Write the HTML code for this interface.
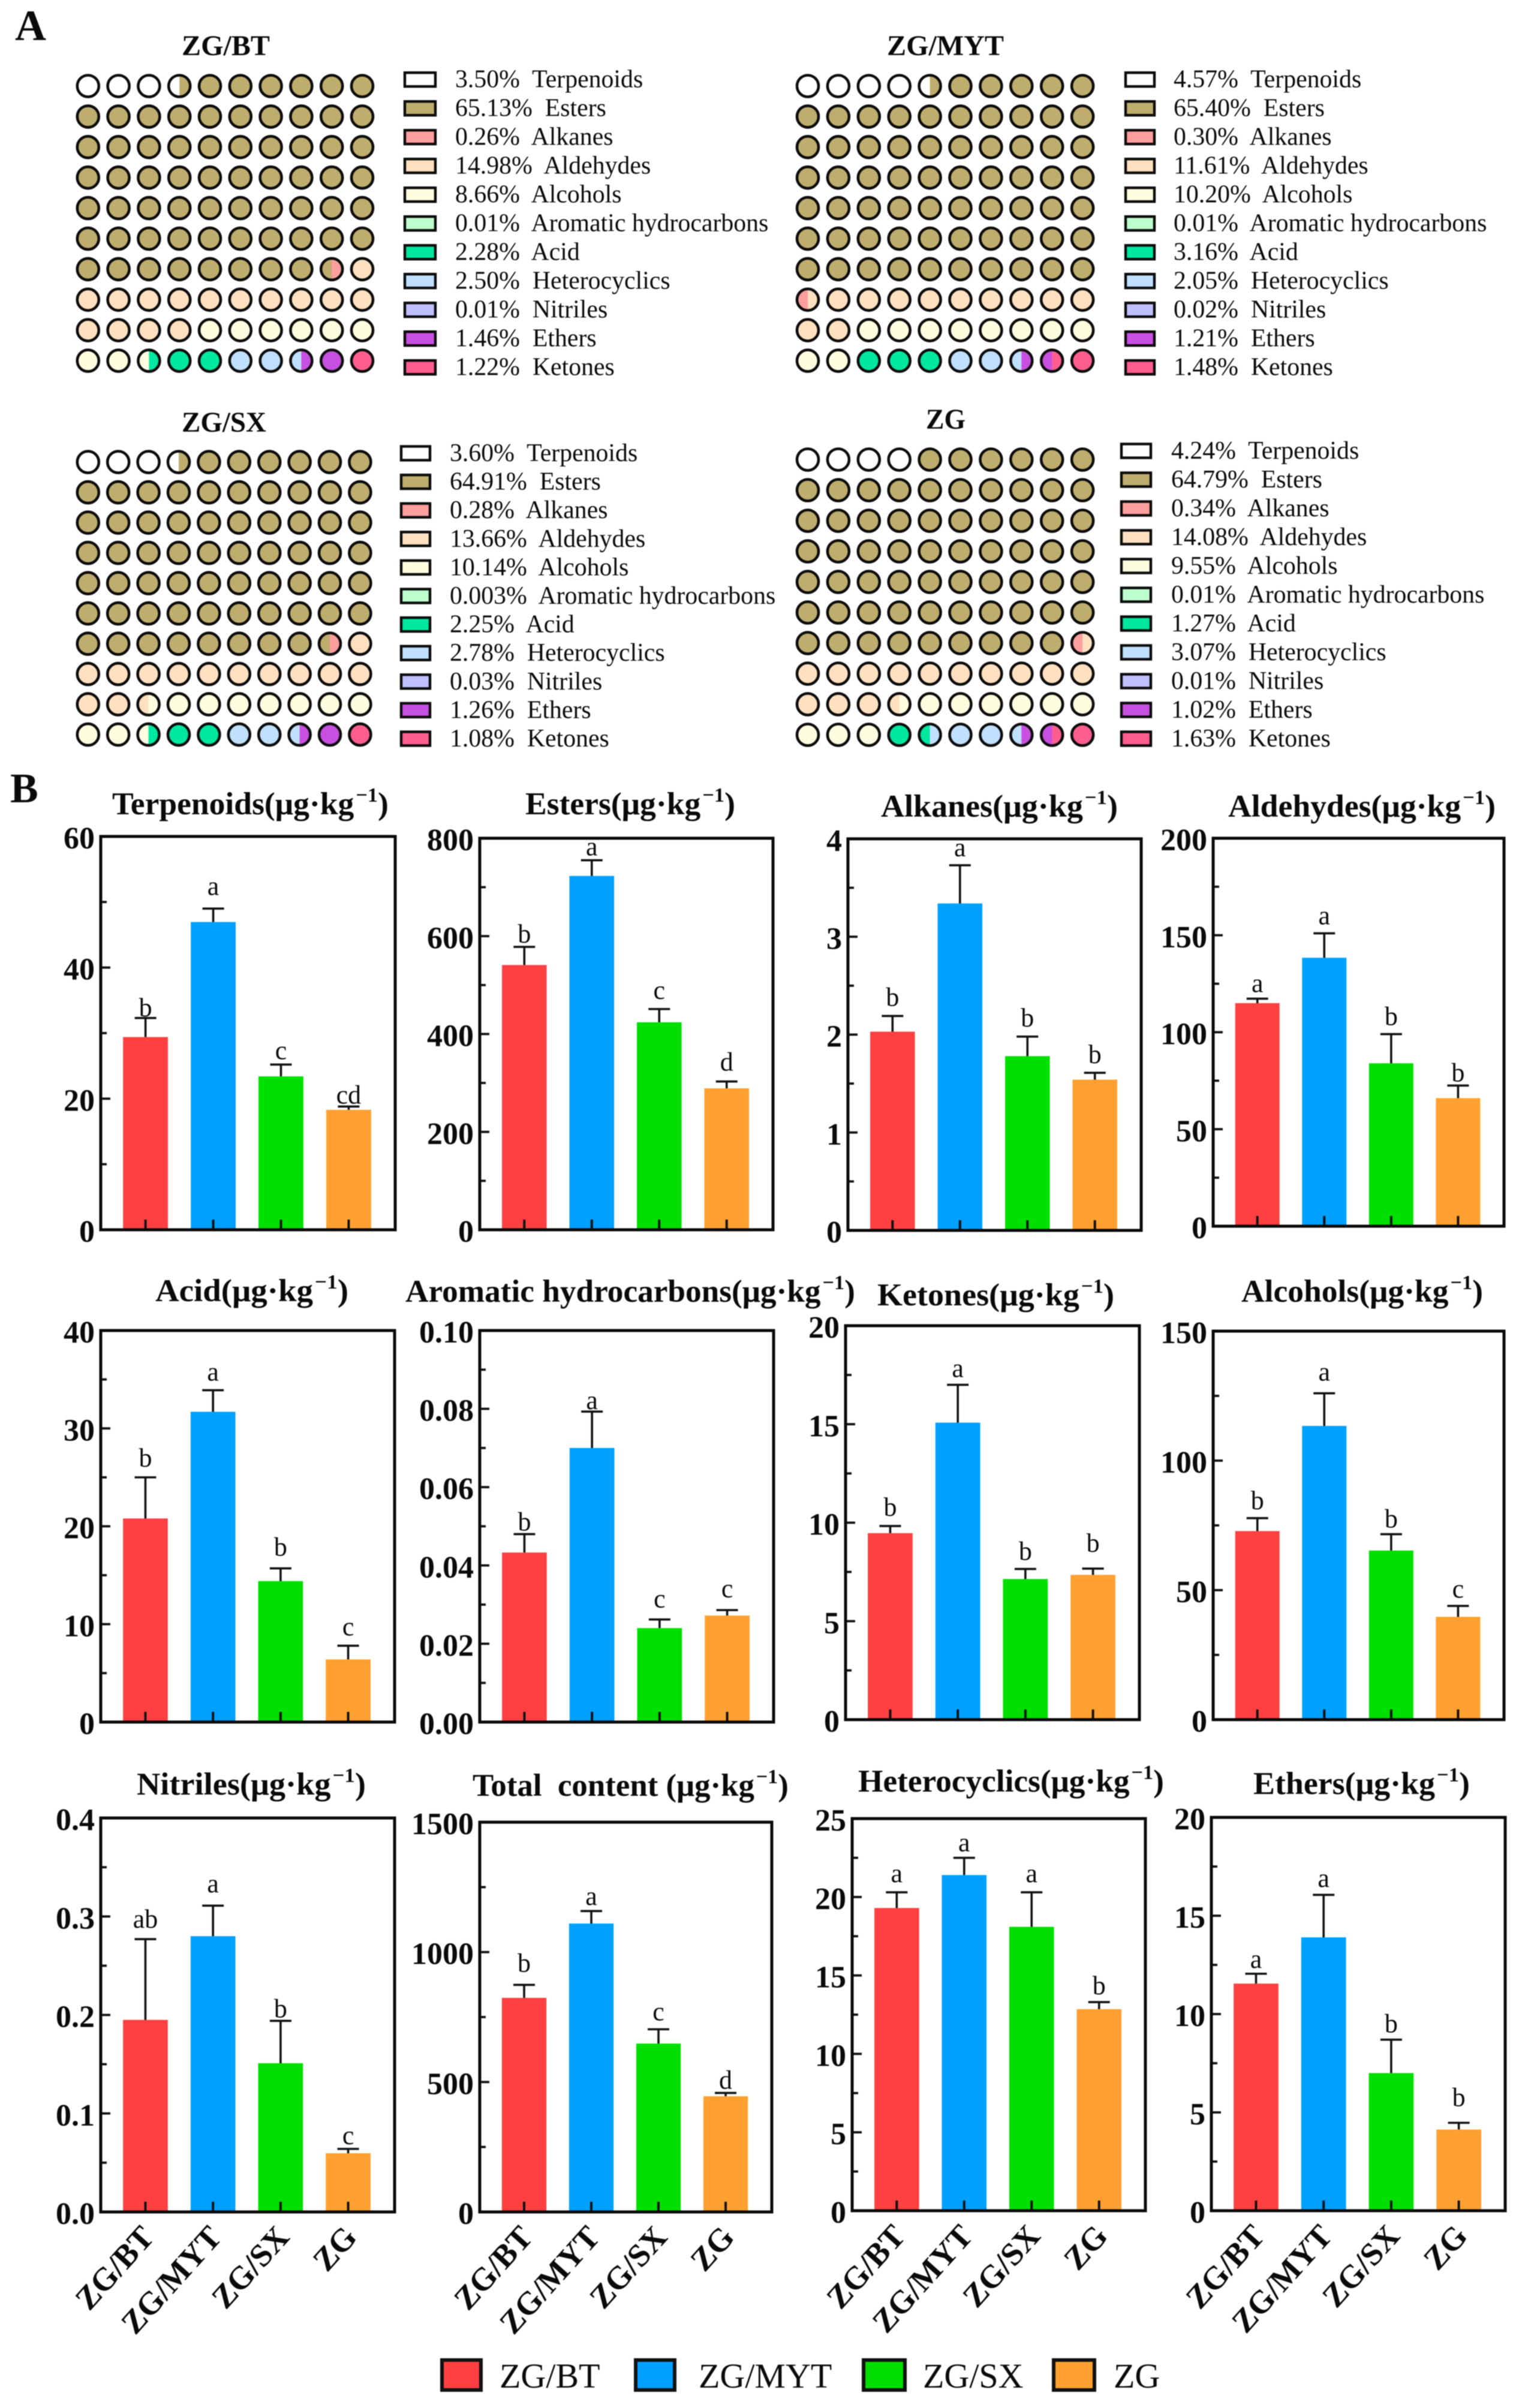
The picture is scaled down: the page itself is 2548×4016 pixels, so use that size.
<!DOCTYPE html>
<html lang="en">
<head>
<meta charset="utf-8">
<title>Volatile compound composition and content</title>
<style>
  html, body { margin: 0; padding: 0; background: #fff; }
  #figure { display: block; width: 2548px; height: 4016px; filter: blur(0.9px); }
  text { font-family: "Liberation Serif", "Noto Serif CJK SC", serif; fill: #0a0a0a; white-space: pre; }
  .bold { font-weight: 700; }
</style>
</head>
<body>
<svg id="figure" xmlns="http://www.w3.org/2000/svg" width="2548" height="4016" viewBox="0 0 2548 4016">
  <rect x="0" y="0" width="2548" height="4016" fill="#ffffff"/>
  <text class="bold" x="25" y="67" font-size="72">A</text>
  <text class="bold" x="17" y="1338" font-size="70">B</text>
  <g id="waffles"></g>
  <g id="bars"></g>
  <g>
    <g>
      <rect x="737" y="3936" width="65" height="50" fill="#ff4040" stroke="#111" stroke-width="6"/>
      <text x="833" y="3982" font-size="58">ZG/BT</text>
    </g>
    <g>
      <rect x="1060" y="3936" width="65" height="50" fill="#00a0ff" stroke="#111" stroke-width="6"/>
      <text x="1165" y="3982" font-size="58">ZG/MYT</text>
    </g>
    <g>
      <rect x="1440" y="3936" width="69" height="50" fill="#00e000" stroke="#111" stroke-width="6"/>
      <text x="1539" y="3982" font-size="58">ZG/SX</text>
    </g>
    <g>
      <rect x="1757" y="3936" width="68" height="50" fill="#ffa030" stroke="#111" stroke-width="6"/>
      <text x="1857" y="3982" font-size="58">ZG</text>
    </g>
  </g>
</svg>
<script>
// ---------- Panel A data ----------
const compoundNames = ['Terpenoids','Esters','Alkanes','Aldehydes','Alcohols','Aromatic hydrocarbons','Acid','Heterocyclics','Nitriles','Ethers','Ketones'];
const sharesZgBt  = [3.50, 65.13, 0.26, 14.98, 8.66, 0.01, 2.28, 2.50, 0.01, 1.46, 1.22];
const sharesZgMyt = [4.57, 65.40, 0.30, 11.61, 10.20, 0.01, 3.16, 2.05, 0.02, 1.21, 1.48];
const sharesZgSx  = [3.60, 64.91, 0.28, 13.66, 10.14, 0.003, 2.25, 2.78, 0.03, 1.26, 1.08];
const sharesZg    = [4.24, 64.79, 0.34, 14.08, 9.55, 0.01, 1.27, 3.07, 0.01, 1.02, 1.63];

// ---------- Panel B data ----------
const categories = ['ZG/BT','ZG/MYT','ZG/SX','ZG'];

const terpenoidsMeans = [29.4, 46.95, 23.4, 18.3];
const terpenoidsUpper = [32.3, 49, 25.2, 18.8];
const terpenoidsLetters = ['b','a','c','cd'];
const terpenoidsTicks = ['0','20','40','60'];

const estersMeans = [541, 723, 424, 289];
const estersUpper = [578, 755, 451, 303];
const estersLetters = ['b','a','c','d'];
const estersTicks = ['0','200','400','600','800'];

const alkanesMeans = [2.03, 3.34, 1.78, 1.54];
const alkanesUpper = [2.19, 3.73, 1.98, 1.61];
const alkanesLetters = ['b','a','b','b'];
const alkanesTicks = ['0','1','2','3','4'];

const aldehydesMeans = [115, 138.4, 84, 66];
const aldehydesUpper = [117.3, 151, 99, 72.5];
const aldehydesLetters = ['a','a','b','b'];
const aldehydesTicks = ['0','50','100','150','200'];

const acidMeans = [20.8, 31.7, 14.4, 6.4];
const acidUpper = [25, 33.9, 15.7, 7.8];
const acidLetters = ['b','a','b','c'];
const acidTicks = ['0','10','20','30','40'];

const aromaticMeans = [0.0433, 0.07, 0.024, 0.0272];
const aromaticUpper = [0.048, 0.0793, 0.0262, 0.0286];
const aromaticLetters = ['b','a','c','c'];
const aromaticTicks = ['0.00','0.02','0.04','0.06','0.08','0.10'];

const ketonesMeans = [9.47, 15.08, 7.14, 7.35];
const ketonesUpper = [9.83, 17.0, 7.65, 7.67];
const ketonesLetters = ['b','a','b','b'];
const ketonesTicks = ['0','5','10','15','20'];

const alcoholsMeans = [72.8, 113.4, 65.3, 39.7];
const alcoholsUpper = [77.8, 126, 71.6, 43.9];
const alcoholsLetters = ['b','a','b','c'];
const alcoholsTicks = ['0','50','100','150'];

const nitrilesMeans = [0.195, 0.28, 0.151, 0.0596];
const nitrilesUpper = [0.277, 0.311, 0.194, 0.064];
const nitrilesLetters = ['ab','a','b','c'];
const nitrilesTicks = ['0.0','0.1','0.2','0.3','0.4'];

const totalMeans = [824, 1110, 648, 445];
const totalUpper = [874, 1158, 703, 458];
const totalLetters = ['b','a','c','d'];
const totalTicks = ['0','500','1000','1500'];

const heterocyclicsMeans = [19.3, 21.4, 18.1, 12.85];
const heterocyclicsUpper = [20.3, 22.5, 20.3, 13.3];
const heterocyclicsLetters = ['a','a','a','b'];
const heterocyclicsTicks = ['0','5','10','15','20','25'];

const ethersMeans = [11.55, 13.9, 7.0, 4.13];
const ethersUpper = [12.05, 16.06, 8.7, 4.47];
const ethersLetters = ['a','a','b','b'];
const ethersTicks = ['0','5','10','15','20'];

// ---------- Styles and layout (not data) ----------
const compoundColors = ['#ffffff','#bfad6e','#ff9e9e','#ffe0c0','#fffde0','#beffd0','#00e8a0','#c0e0ff','#c0c0ff','#c850e0','#ff5c90'];
const seriesColors = ['#ff4040','#00a0ff','#00e000','#ffa030'];
const seriesKeys = ['zg-bt','zg-myt','zg-sx','zg'];
const NS = 'http://www.w3.org/2000/svg';

function make(tag, attrs, parent, text) {
  const el = document.createElementNS(NS, tag);
  for (const k in attrs) el.setAttribute(k, attrs[k]);
  if (text !== undefined) el.textContent = text;
  parent.appendChild(el);
  return el;
}
function fitWidth(el, x, y, width) {
  const w = el.getComputedTextLength();
  el.setAttribute('transform', 'translate(' + x + ',' + y + ') scale(' + (width / w) + ',1)');
}

// ---------- Panel A: waffles ----------
const waffleCharts = [
  {key:'zg-bt',  title:'ZG/BT',  shares:sharesZgBt,  tx:303,  tw:147, ty:92,  cx0:146.8, csx:50.8, cy0:143.5, csy:50.9, sx:673,  sw:55, sy0:132.7, ssy:48,   lx:759},
  {key:'zg-myt', title:'ZG/MYT', shares:sharesZgMyt, tx:1479, tw:195, ty:92,  cx0:1347,  csx:50.9, cy0:143.5, csy:50.9, sx:1875, sw:52, sy0:132.7, ssy:48,   lx:1957},
  {key:'zg-sx',  title:'ZG/SX',  shares:sharesZgSx,  tx:303,  tw:141, ty:720, cx0:146.8, csx:50.4, cy0:770.6, csy:50.5, sx:667,  sw:52, sy0:756,   ssy:47.6, lx:750},
  {key:'zg',     title:'ZG',     shares:sharesZg,    tx:1544, tw:66,  ty:715, cx0:1347,  csx:50.9, cy0:766.5, csy:51,   sx:1868, sw:53, sy0:752,   ssy:48,   lx:1953}
];
const waffleRoot = document.getElementById('waffles');
const CELL_R = 18;

function halfColorIndex(shares, halfIndex) {
  let cum = 0;
  for (let c = 0; c < shares.length; c++) {
    cum += shares[c];
    if (Math.round(cum * 2 - 0.02) > halfIndex) return c;
  }
  return shares.length - 1;
}

waffleCharts.forEach(function (w) {
  const g = make('g', {}, waffleRoot);
  
  

  const title = make('text', {'class':'bold', 'font-size':48}, g, w.title);
  
  
  fitWidth(title, w.tx, w.ty, w.tw);

  for (let r = 0; r < 10; r++) {
    for (let c = 0; c < 10; c++) {
      const n = r * 10 + c;
      const cx = w.cx0 + c * w.csx;
      const cy = w.cy0 + r * w.csy;
      const left = halfColorIndex(w.shares, n * 2);
      const right = halfColorIndex(w.shares, n * 2 + 1);
      const cell = make('g', {}, g);
      
      
      make('circle', {cx:cx, cy:cy, r:CELL_R, fill:compoundColors[left]}, cell);
      if (right !== left) {
        make('path', {d:'M' + cx + ',' + (cy - CELL_R) + 'A' + CELL_R + ',' + CELL_R + ' 0 0 1 ' + cx + ',' + (cy + CELL_R) + 'Z', fill:compoundColors[right]}, cell);
      }
      make('circle', {cx:cx, cy:cy, r:CELL_R, fill:'none', stroke:'#0c0c0c', 'stroke-width':4.6}, cell);
    }
  }

  compoundNames.forEach(function (name, i) {
    const y = w.sy0 + i * w.ssy;
    const row = make('g', {}, g);
    
    
    const sw = make('rect', {x:w.sx + 2, y:y - 11.5, width:w.sw - 4, height:23, fill:compoundColors[i], stroke:'#0c0c0c', 'stroke-width':4.4}, row);
    
    
    const v = w.shares[i];
    const label = (v < 0.01 ? v.toFixed(3) : v.toFixed(2)) + '%  ' + name;
    const t = make('text', {x:w.lx, y:y + 13, 'font-size':41.8, fill:'#222'}, row, label);
    
    
  });
});

// ---------- Panel B: bar charts ----------
const barCharts = [
  {key:'terpenoids',  title:'Terpenoids(μg·kg',       means:terpenoidsMeans, upper:terpenoidsUpper, letters:terpenoidsLetters, ticks:terpenoidsTicks, frame:[168,659,1395,2051], tx:187,  tw:458, ty:1358, gaps:[3,23,9,5],    xl:false},
  {key:'esters',      title:'Esters(μg·kg',           means:estersMeans,     upper:estersUpper,     letters:estersLetters,     ticks:estersTicks,     frame:[800,1289,1398,2051], tx:876, tw:347, ty:1358, gaps:[7,8,17,18],   xl:false},
  {key:'alkanes',     title:'Alkanes(μg·kg',          means:alkanesMeans,    upper:alkanesUpper,    letters:alkanesLetters,    ticks:alkanesTicks,    frame:[1414,1903,1399,2052], tx:1469, tw:392, ty:1362, gaps:[17,15,17,16], xl:false},
  {key:'aldehydes',   title:'Aldehydes(μg·kg',        means:aldehydesMeans,  upper:aldehydesUpper,  letters:aldehydesLetters,  ticks:aldehydesTicks,  frame:[2023,2508,1398,2045], tx:2048, tw:443, ty:1362, gaps:[11,15,15,7],  xl:false},
  {key:'acid',        title:'Acid(μg·kg',             means:acidMeans,       upper:acidUpper,       letters:acidLetters,       ticks:acidTicks,       frame:[168,658,2219,2872], tx:259,  tw:319, ty:2170, gaps:[18,16,21,17], xl:false},
  {key:'aromatic',    title:'Aromatic hydrocarbons(μg·kg', means:aromaticMeans, upper:aromaticUpper, letters:aromaticLetters,  ticks:aromaticTicks,   frame:[800,1290,2219,2872], tx:676,  tw:747, ty:2171, gaps:[6,4,20,21],   xl:false},
  {key:'ketones',     title:'Ketones(μg·kg',          means:ketonesMeans,    upper:ketonesUpper,    letters:ketonesLetters,    ticks:ketonesTicks,    frame:[1410,1900,2211,2868], tx:1463, tw:392, ty:2177, gaps:[17,13,15,28], xl:false},
  {key:'alcohols',    title:'Alcohols(μg·kg',         means:alcoholsMeans,   upper:alcoholsUpper,   letters:alcoholsLetters,   ticks:alcoholsTicks,   frame:[2023,2508,2220,2868], tx:2070, tw:400, ty:2171, gaps:[15,21,11,14], xl:false},
  {key:'nitriles',    title:'Nitriles(μg·kg',         means:nitrilesMeans,   upper:nitrilesUpper,   letters:nitrilesLetters,   ticks:nitrilesTicks,   frame:[168,658,3032,3689], tx:228,  tw:379, ty:2993, gaps:[19,22,6,8],   xl:true},
  {key:'total',       title:'Total  content (μg·kg',  means:totalMeans,      upper:totalUpper,      letters:totalLetters,      ticks:totalTicks,      frame:[800,1287,3039,3689], tx:788,  tw:524, ty:2995, gaps:[22,10,15,7],  xl:true},
  {key:'heterocyclics', title:'Heterocyclics(μg·kg',  means:heterocyclicsMeans, upper:heterocyclicsUpper, letters:heterocyclicsLetters, ticks:heterocyclicsTicks, frame:[1421,1910,3033,3687], tx:1431, tw:507, ty:2988, gaps:[17,11,17,13], xl:true},
  {key:'ethers',      title:'Ethers(μg·kg',           means:ethersMeans,     upper:ethersUpper,     letters:ethersLetters,     ticks:ethersTicks,     frame:[2020,2510,3031,3687], tx:2090, tw:358, ty:2992, gaps:[10,13,12,28], xl:true}
];
const barsRoot = document.getElementById('bars');

barCharts.forEach(function (ch) {
  const left = ch.frame[0], right = ch.frame[1], top = ch.frame[2], bottom = ch.frame[3];
  const W = right - left;
  const yMax = Number(ch.ticks[ch.ticks.length - 1]);
  const yScale = function (v) { return bottom - (v / yMax) * (bottom - top); };
  const xScale = function (i) { return left + W * (0.152 + 0.23 * i); };
  const barW = W * 0.1525;
  const capW = 36;

  const g = make('g', {}, barsRoot);
  
  

  // title
  const title = make('text', {'class':'bold', 'font-size':53}, g);
  
  
  make('tspan', {}, title, ch.title);
  make('tspan', {dy:-21, 'font-size':34, dx:3}, title, '−1');
  make('tspan', {dy:21}, title, ')');
  fitWidth(title, ch.tx, ch.ty, ch.tw);

  // bars
  ch.means.forEach(function (v, i) {
    const bar = make('rect', {x:xScale(i) - barW / 2, y:yScale(v), width:barW, height:bottom - yScale(v), fill:seriesColors[i]}, g);
    
    

    const cx = xScale(i);
    const yTop = yScale(ch.upper[i]);
    const err = make('path', {d:'M' + cx + ',' + yScale(v) + 'V' + yTop + 'M' + (cx - capW / 2) + ',' + yTop + 'H' + (cx + capW / 2), fill:'none', stroke:'#111', 'stroke-width':3.6}, g);
    
    

    const letter = make('text', {x:cx, y:yTop - ch.gaps[i], 'text-anchor':'middle', 'font-size':44, fill:'#222'}, g, ch.letters[i]);
    
    

    const xTick = make('line', {x1:cx, x2:cx, y1:bottom, y2:bottom - 17, stroke:'#111', 'stroke-width':4}, g);
    
    

    if (ch.xl) {
      const xLabel = make('text', {'class':'bold', 'font-size':54, 'text-anchor':'end', transform:'translate(' + (cx + 17) + ',' + (bottom + 44) + ') rotate(-48)'}, g, categories[i]);
      
      
    }
  });

  // y ticks and labels
  ch.ticks.forEach(function (lab, i) {
    const v = Number(lab);
    const y = yScale(v);
    const tick = make('line', {x1:left, x2:left + 16, y1:y, y2:y, stroke:'#111', 'stroke-width':3.8}, g);
    
    
    const label = make('text', {'class':'bold', x:left - 10, y:y + 20, 'text-anchor':'end', 'font-size':52}, g, lab);
    
    
    if (i < ch.ticks.length - 1) {
      const my = yScale((v + Number(ch.ticks[i + 1])) / 2);
      const minor = make('line', {x1:left, x2:left + 10, y1:my, y2:my, stroke:'#111', 'stroke-width':3.8}, g);
      
      
    }
  });

  // frame
  const frame = make('rect', {x:left, y:top, width:W, height:bottom - top, fill:'none', stroke:'#0a0a0a', 'stroke-width':5}, g);
  
  
});
</script>
</body>
</html>
